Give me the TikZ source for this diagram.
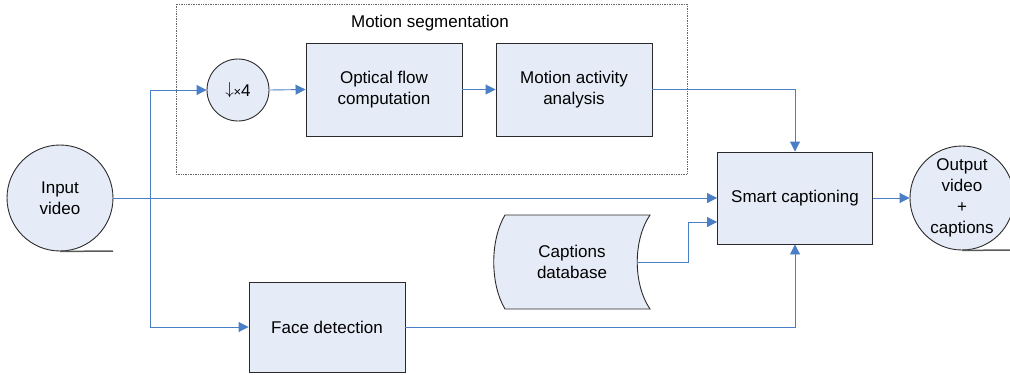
\documentclass[tikz,border=0pt]{standalone}
\usepackage{fontspec}
\setmainfont{Liberation Sans}
\usetikzlibrary{arrows.meta}
\definecolor{fillc}{HTML}{E6ECF7}
\definecolor{linec}{HTML}{4A7EC6}
\definecolor{edgec}{HTML}{2A2A2A}
\begin{document}
\begin{tikzpicture}[x=1pt,y=-1pt,
  every node/.style={font=\fontsize{17}{21}\selectfont, align=center, inner sep=0pt},
  box/.style={draw=edgec, fill=fillc, line width=0.9pt, minimum width=156pt, minimum height=93pt},
  circ/.style={draw=edgec, fill=fillc, line width=0.9pt, circle},
  arr/.style={draw=linec, line width=0.9pt, -{Triangle[length=10pt,width=10pt]}},
  conn/.style={draw=linec, line width=0.9pt},
  tape/.style={draw=black!65, line width=1.5pt}]
\useasboundingbox (0,0) rectangle (1010,375);
% dotted group
\draw[densely dotted, black!60, line width=0.7pt] (176,4) rectangle (687,174);
\node (seg) at (430,23) {Motion segmentation};
% nodes
\node[circ, minimum size=106pt] (in) at (60,198) {Input\\video};
\draw[tape] (in.south) -- (113,251);
\node[circ, minimum size=62pt] (ds) at (238,90) {\raisebox{2.5pt}{\fontsize{16}{21}\selectfont$\downarrow$}\kern-0.5pt{\fontsize{13}{21}\selectfont ×}4};
\node[box] (of) at (384,89.5) {Optical flow\\computation};
\node[box] (ma) at (574,89.5) {Motion activity\\analysis};
\node[box, minimum width=155pt, minimum height=92pt] (sc) at (795,198) {Smart captioning};
\node[box, minimum height=90pt] (fd) at (327,327) {Face detection};
\node[circ, minimum size=104pt] (out) at (962,198) {Output\\video\\+\\captions};
\draw[tape] (out.south) -- (1010,250);
% captions database
\draw[draw=edgec, fill=fillc, line width=0.9pt] (505,215) -- (650,215) .. controls (633,240) and (633,284) .. (650,309) -- (505,309) .. controls (490,284) and (490,240) .. (505,215) -- cycle;
\node (db) at (572,262) {Captions\\database};
\coordinate (dbr) at (638,262);
% connectors
\coordinate (j) at (150,198);
\draw[conn] (in.east) -- (j);
\draw[arr] (j) -- (sc.west);
\draw[arr] (j) |- (ds.west);
\draw[arr] (j) |- (fd.west);
\draw[arr] (ds.east) -- (of.west);
\draw[arr] (of.east) -- (ma.west);
\draw[arr] (ma.east) -| (sc.north);
\draw[arr] (dbr) -- (688,262) |- ([yshift=-24pt]sc.west);
\draw[arr] (fd.east) -| (sc.south);
\draw[arr] (sc.east) -- (out.west);
\end{tikzpicture}
\end{document}
